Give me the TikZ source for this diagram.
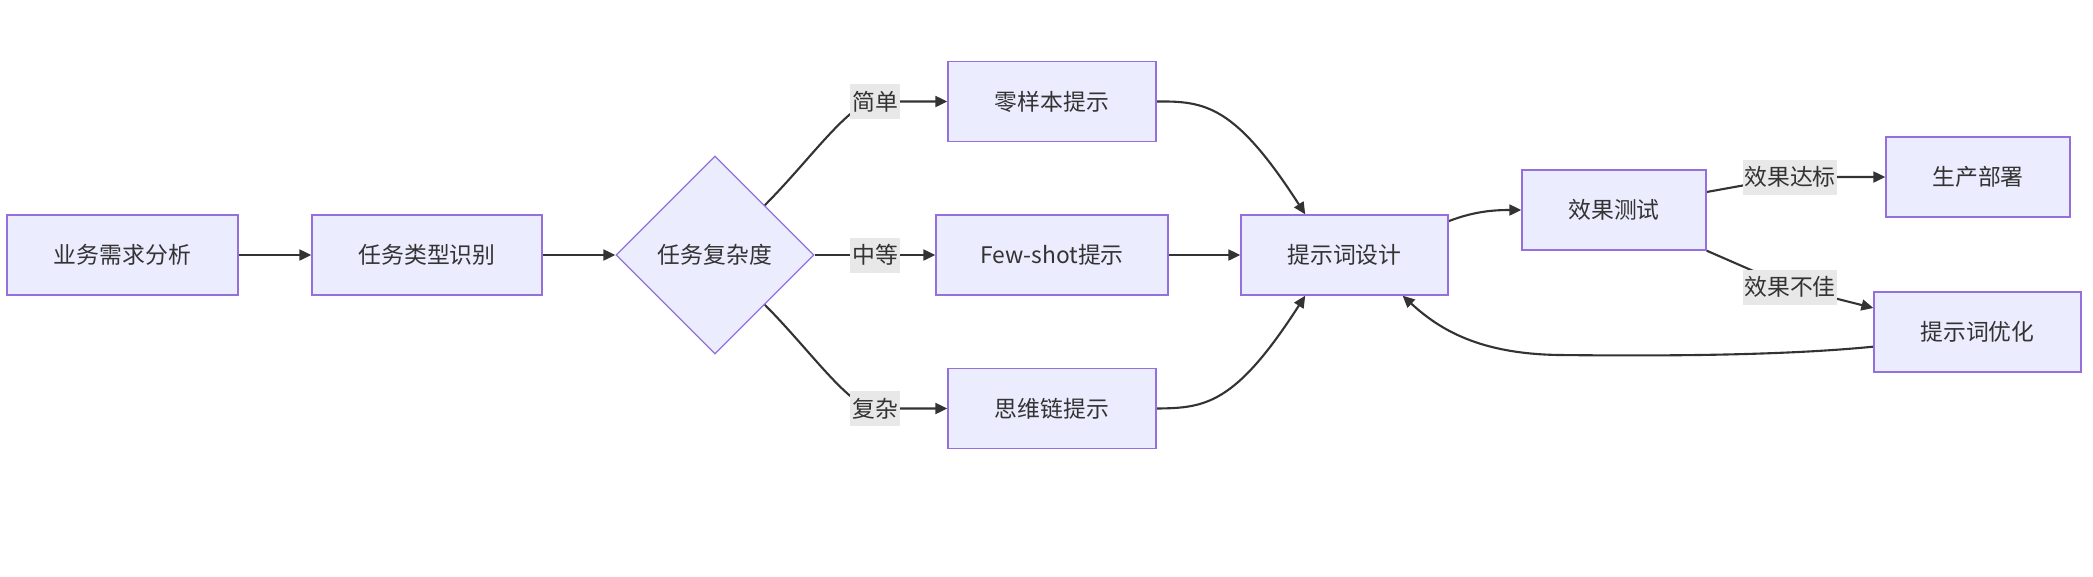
\documentclass[tikz,border=0pt]{standalone}
\usepackage{fontspec}
\setmainfont{Noto Sans CJK SC}
\usetikzlibrary{shapes.geometric,arrows.meta,backgrounds}
\definecolor{boxfill}{HTML}{ECECFF}
\definecolor{boxline}{HTML}{9370DB}
\definecolor{edgecol}{HTML}{333333}
\definecolor{lblfill}{HTML}{E8E8E8}
\begin{document}
\begin{tikzpicture}[x=.02cm,y=-.02cm,
  every node/.style={font=\fontsize{13}{15}\selectfont,text=edgecol},
  proc/.style={draw=boxline,fill=boxfill,line width=.75pt,minimum height=1.6cm,inner sep=0pt},
  decide/.style={diamond,draw=boxline,fill=boxfill,line width=.75pt,minimum width=3.96cm,minimum height=3.96cm,inner sep=0pt},
  lbl/.style={fill=lblfill,inner xsep=1pt,inner ysep=0pt,minimum height=.7cm},
  flow/.style={draw=edgecol,line width=1.2pt,-{Triangle[length=6.8pt,width=6.2pt]}}]
\useasboundingbox (0,0) rectangle (2093,576);
\node[proc,minimum width=4.62cm] (need) at (122.5,255) {业务需求分析};
\node[proc,minimum width=4.6cm] (type) at (427,255) {任务类型识别};
\node[decide] (cplx) at (715,255) {任务复杂度};
\node[proc,minimum width=4.16cm] (zero) at (1052,101.5) {零样本提示};
\node[proc,minimum width=4.64cm] (few) at (1052,255) {Few-shot提示};
\node[proc,minimum width=4.16cm] (cot) at (1052,408.5) {思维链提示};
\node[proc,minimum width=4.14cm] (design) at (1344.5,255) {提示词设计};
\node[proc,minimum width=3.68cm] (test) at (1614,210) {效果测试};
\node[proc,minimum width=3.68cm] (deploy) at (1978,177) {生产部署};
\node[proc,minimum width=4.14cm] (optim) at (1977.5,332) {提示词优化};
\node[lbl] (simple) at (875,101.5) {简单};
\node[lbl] (medium) at (875,255) {中等};
\node[lbl] (hard) at (875,408.5) {复杂};
\node[lbl] (pass) at (1790,177) {效果达标};
\node[lbl] (fail) at (1790,287) {效果不佳};
\begin{scope}[on background layer]
\draw[flow] (need) -- (type);
\draw[flow] (type) -- (cplx);
\draw[flow] (cplx.north east) .. controls (810,160) and (850,101.5) .. (simple.center) -- (zero.west);
\draw[flow] (cplx.east) -- (medium.center) -- (few.west);
\draw[flow] (cplx.south east) .. controls (810,350) and (850,408.5) .. (hard.center) -- (cot.west);
\draw[flow] (zero.east) .. controls (1205,101) and (1235,105) .. (design.134);
\draw[flow] (few) -- (design);
\draw[flow] (cot.east) .. controls (1205,408) and (1235,405) .. (design.226);
\draw[flow] (design.18) .. controls (1475,211) and (1495,210) .. (test.west);
\draw[flow] (test.11) -- (pass.center) -- (deploy.west);
\draw[flow] (test.south east) -- (fail.center) -- (optim.167);
\draw[flow] (optim.188) .. controls (1780,356) and (1650,356) .. (1560,355) .. controls (1480,354) and (1440,330) .. (design.-35);
\end{scope}
\end{tikzpicture}
\end{document}
